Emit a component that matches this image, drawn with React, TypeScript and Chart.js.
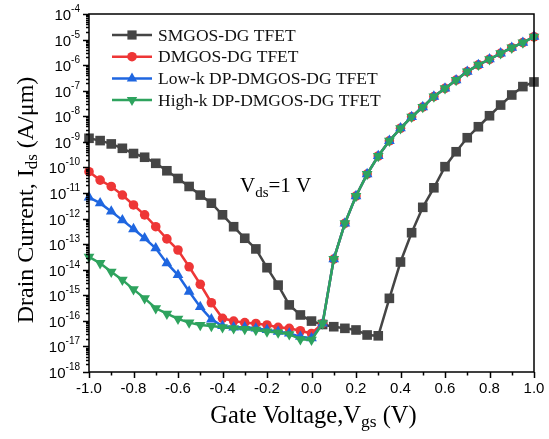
import React, { useEffect, useRef } from 'react';
import { Chart, registerables } from 'chart.js';

Chart.register(...registerables);

// Gate voltage (V)
const vgs = [
  -1.0, -0.95, -0.9, -0.85, -0.8, -0.75, -0.7, -0.65, -0.6, -0.55, -0.5,
  -0.45, -0.4, -0.35, -0.3, -0.25, -0.2, -0.15, -0.1, -0.05, 0.0,
  0.05, 0.1, 0.15, 0.2, 0.25, 0.3, 0.35, 0.4, 0.45, 0.5,
  0.55, 0.6, 0.65, 0.7, 0.75, 0.8, 0.85, 0.9, 0.95, 1.0,
];

// Drain current (A/um)
const smgos = [
  1.38e-9, 1.12e-9, 8.3e-10, 5.6e-10, 3.5e-10, 2.5e-10, 1.45e-10, 7.4e-11, 3.7e-11, 1.8e-11, 8.3e-12,
  4.0e-12, 1.4e-12, 4.8e-13, 1.7e-13, 6.5e-14, 1.2e-14, 2.5e-15, 4.2e-16, 1.7e-16, 9.8e-17,
  7.2e-17, 5.9e-17, 5.1e-17, 4.4e-17, 2.8e-17, 2.6e-17, 7.6e-16, 2.0e-14, 2.8e-13, 2.75e-12,
  1.6e-11, 1.07e-10, 4.1e-10, 1.45e-9, 3.9e-9, 1.05e-8, 2.75e-8, 6.8e-8, 1.45e-7, 2.2e-7,
];
const dmgos = [
  6.8e-11, 3.2e-11, 1.8e-11, 8.3e-12, 3.4e-12, 1.4e-12, 4.8e-13, 1.6e-13, 5.9e-14, 1.3e-14, 2.7e-15,
  5.1e-16, 1.26e-16, 9.8e-17, 8.5e-17, 7.9e-17, 6.9e-17, 5.6e-17, 5.1e-17, 4.1e-17, 3.2e-17,
  7.9e-17, 2.6e-14, 6.5e-13, 7.6e-12, 5.5e-11, 2.8e-10, 1.1e-9, 3.4e-9, 9.5e-9, 2.3e-8,
  5.9e-8, 1.23e-7, 2.6e-7, 5.6e-7, 1.02e-6, 1.7e-6, 2.9e-6, 4.8e-6, 7.6e-6, 1.29e-5,
];
const lowK = [
  6.8e-12, 4.0e-12, 1.9e-12, 8.7e-13, 3.9e-13, 1.7e-13, 6.9e-14, 1.8e-14, 6.2e-15, 1.4e-15, 3.5e-16,
  1.15e-16, 6.3e-17, 5.6e-17, 5.6e-17, 5.1e-17, 4.4e-17, 3.8e-17, 3.2e-17, 2.4e-17, 2.1e-17,
  7.9e-17, 2.6e-14, 6.5e-13, 7.6e-12, 5.5e-11, 2.8e-10, 1.1e-9, 3.4e-9, 9.5e-9, 2.3e-8,
  5.9e-8, 1.23e-7, 2.6e-7, 5.6e-7, 1.02e-6, 1.7e-6, 2.9e-6, 4.8e-6, 7.6e-6, 1.29e-5,
];
const highK = [
  3.2e-14, 1.8e-14, 8.3e-15, 4.0e-15, 1.7e-15, 7.6e-16, 3.1e-16, 1.9e-16, 1.2e-16, 8.5e-17, 6.9e-17,
  6.3e-17, 5.6e-17, 5.1e-17, 4.8e-17, 4.4e-17, 3.8e-17, 3.5e-17, 3.0e-17, 1.9e-17, 1.8e-17,
  7.9e-17, 2.6e-14, 6.5e-13, 7.6e-12, 5.5e-11, 2.8e-10, 1.1e-9, 3.4e-9, 9.5e-9, 2.3e-8,
  5.9e-8, 1.23e-7, 2.6e-7, 5.6e-7, 1.02e-6, 1.7e-6, 2.9e-6, 4.8e-6, 7.6e-6, 1.29e-5,
];

const seriesNames = ['SMGOS-DG TFET', 'DMGOS-DG TFET', 'Low-k DP-DMGOS-DG TFET', 'High-k DP-DMGOS-DG TFET'];
const seriesColors = ['#454545', '#ee3636', '#1f66e0', '#2ea35e'];
const seriesMarkers = ['rect', 'circle', 'triangle', 'triangleDown'];

const xMajorTicks = [-1.0, -0.8, -0.6, -0.4, -0.2, 0.0, 0.2, 0.4, 0.6, 0.8, 1.0];
const xMinorTicks = [-0.9, -0.7, -0.5, -0.3, -0.1, 0.1, 0.3, 0.5, 0.7, 0.9];
const yExponents = [-18, -17, -16, -15, -14, -13, -12, -11, -10, -9, -8, -7, -6, -5, -4];

const SERIF = '"Liberation Serif", "Times New Roman", serif';
const SANS = '"Liberation Sans", Arial, sans-serif';

type Part = { t: string; f: string; dy?: number };

function richWidth(ctx: CanvasRenderingContext2D, parts: Part[]) {
  let w = 0;
  for (const p of parts) { ctx.font = p.f; w += ctx.measureText(p.t).width; }
  return w;
}
function drawRich(ctx: CanvasRenderingContext2D, parts: Part[], x: number, y: number) {
  let cx = x;
  ctx.textAlign = 'left';
  ctx.textBaseline = 'alphabetic';
  for (const p of parts) {
    ctx.font = p.f;
    ctx.fillText(p.t, cx, y + (p.dy || 0));
    cx += ctx.measureText(p.t).width;
  }
}

function drawMarker(ctx: CanvasRenderingContext2D, kind: string, x: number, y: number, color: string) {
  ctx.save();
  ctx.fillStyle = color;
  ctx.beginPath();
  if (kind === 'rect') {
    const s = 4.6;
    ctx.rect(x - s, y - s, 2 * s, 2 * s);
  } else if (kind === 'circle') {
    ctx.arc(x, y, 4.8, 0, Math.PI * 2);
  } else if (kind === 'triangle') {
    const r = 6;
    ctx.moveTo(x, y - r);
    ctx.lineTo(x + r * 0.866, y + r * 0.5);
    ctx.lineTo(x - r * 0.866, y + r * 0.5);
    ctx.closePath();
  } else {
    const r = 6;
    ctx.moveTo(x, y + r);
    ctx.lineTo(x + r * 0.866, y - r * 0.5);
    ctx.lineTo(x - r * 0.866, y - r * 0.5);
    ctx.closePath();
  }
  ctx.fill();
  ctx.restore();
}

const decorPlugin = {
  id: 'decor',
  afterDatasetsDraw(chart: any) {
    const { ctx, chartArea: a, scales } = chart;
    const xs = scales.x;
    const ys = scales.y;
    ctx.save();
    ctx.fillStyle = '#000';
    ctx.strokeStyle = '#000';

    // frame
    ctx.lineWidth = 1.5;
    ctx.strokeRect(a.left, a.top, a.right - a.left, a.bottom - a.top);

    // x ticks
    ctx.lineWidth = 1.5;
    ctx.beginPath();
    for (const v of xMajorTicks) {
      const px = Math.round(xs.getPixelForValue(v)) + 0.5;
      ctx.moveTo(px, a.bottom);
      ctx.lineTo(px, a.bottom + 6);
    }
    for (const v of xMinorTicks) {
      const px = Math.round(xs.getPixelForValue(v)) + 0.5;
      ctx.moveTo(px, a.bottom);
      ctx.lineTo(px, a.bottom + 3.5);
    }
    ctx.stroke();
    ctx.font = `15px ${SANS}`;
    ctx.textAlign = 'center';
    ctx.textBaseline = 'middle';
    for (const v of xMajorTicks) {
      ctx.fillText(v.toFixed(1), xs.getPixelForValue(v), a.bottom + 17);
    }

    // y ticks
    ctx.beginPath();
    for (const e of yExponents) {
      const base = Math.pow(10, e);
      const py = Math.round(ys.getPixelForValue(base)) + 0.5;
      ctx.moveTo(a.left, py);
      ctx.lineTo(a.left - 6, py);
      if (e < -4) {
        for (let k = 2; k <= 9; k++) {
          const pm = Math.round(ys.getPixelForValue(k * base)) + 0.5;
          ctx.moveTo(a.left, pm);
          ctx.lineTo(a.left - 3, pm);
        }
      }
    }
    ctx.stroke();
    for (const e of yExponents) {
      const py = ys.getPixelForValue(Math.pow(10, e));
      ctx.font = `10px ${SANS}`;
      const supW = ctx.measureText(String(e)).width;
      const right = a.left - 9;
      ctx.textAlign = 'left';
      ctx.textBaseline = 'alphabetic';
      ctx.fillText(String(e), right - supW, py - 2);
      ctx.font = `15px ${SANS}`;
      ctx.textAlign = 'right';
      ctx.fillText('10', right - supW, py + 6);
    }

    // x title
    const xt: Part[] = [
      { t: 'Gate Voltage,', f: `24.5px ${SERIF}` },
      { t: 'V', f: `24.5px ${SERIF}` },
      { t: 'gs', f: `17.5px ${SERIF}`, dy: 4 },
      { t: ' (V)', f: `24.5px ${SERIF}` },
    ];
    const xtw = richWidth(ctx, xt);
    drawRich(ctx, xt, (a.left + a.right) / 2 - xtw / 2 + 2, 423);

    // y title
    const yt: Part[] = [
      { t: 'Drain Current, I', f: `24px ${SERIF}` },
      { t: 'ds', f: `17px ${SERIF}`, dy: 4 },
      { t: ' (A/\u03bcm)', f: `24px ${SERIF}` },
    ];
    const ytw = richWidth(ctx, yt);
    ctx.save();
    ctx.translate(33, 200);
    ctx.rotate(-Math.PI / 2);
    drawRich(ctx, yt, -ytw / 2, 0);
    ctx.restore();

    // annotation
    const an: Part[] = [
      { t: 'V', f: `21px ${SERIF}` },
      { t: 'ds', f: `15px ${SERIF}`, dy: 5 },
      { t: '=1 V', f: `21px ${SERIF}` },
    ];
    drawRich(ctx, an, 240, 192);

    // legend
    for (let i = 0; i < seriesNames.length; i++) {
      const ly = 35 + i * 21.7;
      ctx.strokeStyle = seriesColors[i];
      ctx.lineWidth = 2.5;
      ctx.beginPath();
      ctx.moveTo(112, ly);
      ctx.lineTo(152, ly);
      ctx.stroke();
      drawMarker(ctx, seriesMarkers[i], 132, ly, seriesColors[i]);
      ctx.fillStyle = '#111';
      ctx.font = `17.5px ${SERIF}`;
      ctx.textAlign = 'left';
      ctx.textBaseline = 'middle';
      ctx.fillText(seriesNames[i], 158, ly + 1);
    }
    ctx.restore();
  },
};

export default function App() {
  const ref = useRef<HTMLCanvasElement | null>(null);
  useEffect(() => {
    if (!ref.current) return;
    const series = [smgos, dmgos, lowK, highK];
    const orders = [3, 2, 1, 0];
    const datasets = series.map((vals, i) => ({
      label: seriesNames[i],
      data: vgs.map((x, j) => ({ x, y: vals[j] })),
      borderColor: seriesColors[i],
      backgroundColor: seriesColors[i],
      pointBackgroundColor: seriesColors[i],
      pointBorderColor: seriesColors[i],
      borderWidth: 2.5,
      pointStyle: seriesMarkers[i] === 'triangleDown' ? 'triangle' : seriesMarkers[i],
      rotation: seriesMarkers[i] === 'triangleDown' ? 180 : 0,
      pointRadius: seriesMarkers[i] === 'rect' ? 6.8 : seriesMarkers[i] === 'circle' ? 4.8 : 6.2,
      pointBorderWidth: 0,
      tension: 0,
      clip: false as any,
      order: orders[i],
    }));
    const chart = new Chart(ref.current, {
      type: 'line',
      data: { datasets },
      options: {
        animation: false,
        responsive: false,
        devicePixelRatio: 1,
        layout: { padding: { left: 89, right: 15, top: 14, bottom: 67 } },
        plugins: { legend: { display: false }, tooltip: { enabled: false } },
        scales: {
          x: { type: 'linear', min: -1, max: 1, display: false },
          y: { type: 'logarithmic', min: 1e-18, max: 1e-4, display: false },
        },
      },
      plugins: [decorPlugin],
    } as any);
    return () => chart.destroy();
  }, []);
  return (
    <div style={{ position: 'absolute', left: 0, top: 0, width: 549, height: 439, background: '#fff' }}>
      <canvas ref={ref} width={549} height={439} style={{ display: 'block' }} />
    </div>
  );
}
